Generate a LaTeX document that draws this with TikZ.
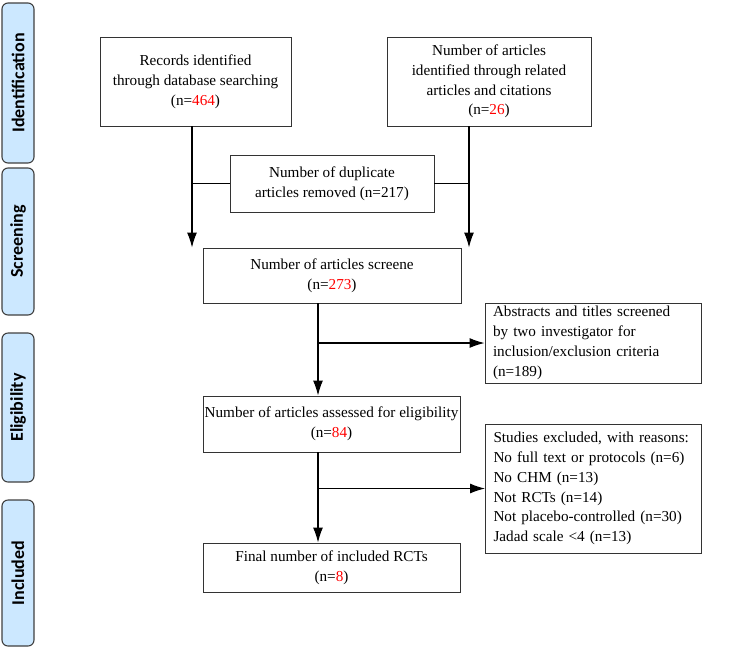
\documentclass[tikz,border=0pt]{standalone}
\usepackage{fontspec}
\setmainfont{Liberation Serif}
\newfontfamily\stagefont{Carlito}
\usetikzlibrary{arrows.meta}
\definecolor{stageblue}{HTML}{CCE8FF}
\newcommand{\nred}[1]{\textcolor{red}{#1}}

\begin{document}
\begin{tikzpicture}[x=1pt,y=-1pt]
\tikzstyle{every node}=[font=\fontsize{15.2}{19.8}\selectfont]
\tikzstyle{stage}=[draw=black!75, line width=1.1pt, fill=stageblue, rounded corners=6pt, rotate=90, minimum height=32pt, inner sep=0pt, font=\stagefont\bfseries\fontsize{18}{20}\selectfont]
\tikzstyle{box}=[draw=black!80, line width=0.9pt, align=center, inner sep=0pt]
\tikzstyle{note}=[draw=black!80, line width=0.9pt, align=left, inner xsep=8pt, inner ysep=0pt, text width=200pt]
\tikzstyle{arr}=[line width=1.2pt, -{Latex[length=15pt,width=10pt]}]
\tikzstyle{link}=[line width=1.2pt]

\useasboundingbox (0,0) rectangle (754,649);

\node[stage, minimum width=160pt] (ident) at (18,83) {Identification};
\node[stage, minimum width=147pt] (screen) at (18,241.5) {Screening};
\node[stage, minimum width=149pt] (elig) at (18,407.5) {Eligibility};
\node[stage, minimum width=146pt] (incl) at (18,573) {Included};

\node[box, minimum width=191pt, minimum height=89pt] (records) at (195.5,81.5) {Records identified\\through database searching\\(n=\nred{464})};
\node[box, minimum width=204pt, minimum height=89pt] (related) at (489,81.5) {Number of articles\\identified through related\\articles and citations\\(n=\nred{26})};
\node[box, minimum width=204pt, minimum height=57pt] (dupl) at (332,183.5) {Number of duplicate\\articles removed (n=217)};
\node[box, minimum width=258pt, minimum height=55pt] (screened) at (332,275.5) {Number of articles screene\\(n=\nred{273})};
\node[note, minimum height=80pt] (abstracts) at (593,343) {Abstracts and titles screened\\by two investigator for\\inclusion/exclusion criteria\\(n=189)};
\node[box, minimum width=257pt, minimum height=56pt] (eligible) at (331.5,424) {Number of articles assessed for eligibility\\(n=\nred{84})};
\node[note, minimum height=129pt] (excluded) at (593.5,488.5) {Studies excluded, with reasons:\\No full text or protocols (n=6)\\No CHM (n=13)\\Not RCTs (n=14)\\Not placebo-controlled (n=30)\\Jadad scale <4 (n=13)};
\node[box, minimum width=257pt, minimum height=49pt] (included) at (331.5,567.5) {Final number of included RCTs\\(n=\nred{8})};

\coordinate (ldown) at ([xshift=-3.5pt]records.south);
\coordinate (rdown) at ([xshift=-20pt]related.south);
\draw[arr] (ldown) -- (ldown |- screened.north);
\draw[arr] (rdown) -- (rdown |- screened.north);
\draw[link] (dupl.west) -- (dupl.west -| ldown);
\draw[link] (dupl.east) -- (dupl.east -| rdown);

\coordinate (sdown) at ([xshift=-14pt]screened.south);
\draw[arr] (sdown) -- (sdown |- eligible.north);
\draw[arr] (sdown |- abstracts.west) -- (abstracts.west);

\coordinate (edown) at ([xshift=-13.5pt]eligible.south);
\draw[arr] (edown) -- (edown |- included.north);
\draw[arr] (edown |- excluded.west) -- (excluded.west);

\end{tikzpicture}
\end{document}
